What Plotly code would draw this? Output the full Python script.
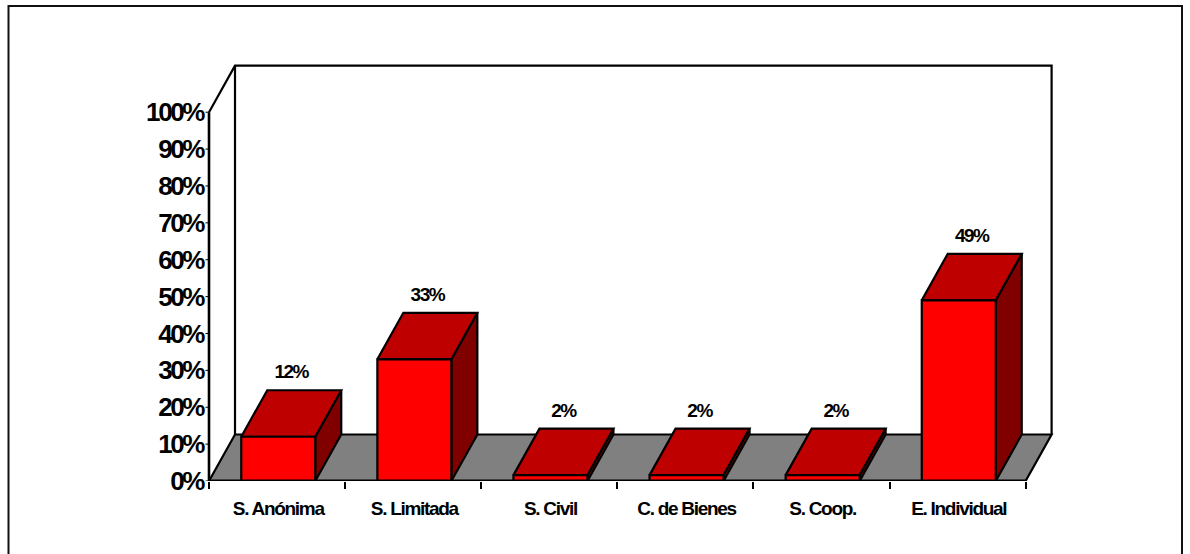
import plotly.graph_objects as go

categories = ["S. Anónima", "S. Limitada", "S. Civil", "C. de Bienes", "S. Coop.", "E. Individual"]
values = [12, 33, 1.6, 1.6, 1.6, 49]
value_labels = ["12%", "33%", "2%", "2%", "2%", "49%"]
y_ticks = list(range(0, 101, 10))

W, H = 1190, 554
X0, Y0 = 209, 481                    # page pixels of the axes origin
L, R, T, B = 200, 1060, 56, 481      # plot box in page pixels
PX_X = (1025.6 - 209) / 6            # pixels per category
PX_Y = (481.3 - 112.5) / 100         # pixels per percent
DX = 26.0 / PX_X                     # depth offset, category units
DY = 46.5 / PX_Y                     # depth offset, percent units
BAR_W = 74 / PX_X
SHIFT = 1.2 / PX_X                   # category centres sit slightly right of mid-slot
LABEL_X = 13 / PX_X
LABEL_Y = 7 / PX_Y

INK = "#000000"
fig = go.Figure()


def poly(xs, ys, fill, lw=2):
    fig.add_trace(go.Scatter(x=xs, y=ys, mode="lines", fill="toself", fillcolor=fill,
                             line=dict(color=INK, width=lw), hoverinfo="skip",
                             showlegend=False, cliponaxis=False))


def line(xs, ys, lw=2.2):
    fig.add_trace(go.Scatter(x=xs, y=ys, mode="lines", line=dict(color=INK, width=lw),
                             hoverinfo="skip", showlegend=False, cliponaxis=False))


# floor and walls
poly([0, 6, 6 + DX, DX, 0], [0, 0, DY, DY, 0], "#808080", 2.2)
line([0, 0, DX, 6 + DX, 6 + DX], [100, 100, 100 + DY, 100 + DY, DY])
line([DX, DX], [DY, 100 + DY])
line([0, 0], [0, 100], 2.6)

# bars
for i, v in enumerate(values):
    c = i + 0.5 + SHIFT
    x0, x1 = c - BAR_W / 2, c + BAR_W / 2
    poly([x1, x1 + DX, x1 + DX, x1, x1], [0, DY, v + DY, v, 0], "#800000", 2.2)
    poly([x0, x1, x1 + DX, x0 + DX, x0], [v, v, v + DY, v + DY, v], "#bf0000", 2.2)
    poly([x0, x1, x1, x0, x0], [0, 0, v, v, 0], "#ff0000", 2.2)

line([0, 6], [0, 0], 3)

# data labels
fig.add_trace(go.Scatter(
    x=[i + 0.5 + SHIFT + LABEL_X for i in range(len(values))],
    y=[v + DY + LABEL_Y for v in values],
    mode="text", text=value_labels, textposition="top center",
    textfont=dict(family="Liberation Sans", size=19, color=INK, weight="bold"),
    hoverinfo="skip", showlegend=False, cliponaxis=False))

fig.update_layout(
    width=W, height=H, autosize=False,
    margin=dict(l=L, r=W - R, t=T, b=H - B, pad=0),
    paper_bgcolor="white", plot_bgcolor="rgba(0,0,0,0)",
    xaxis=dict(
        range=[(L - X0) / PX_X, (R - X0) / PX_X], showgrid=False, zeroline=False, showline=False,
        tickmode="array", tickvals=[i + 0.5 + SHIFT for i in range(6)], ticktext=categories,
        ticks="", ticklabelstandoff=14,
        tickfont=dict(family="Liberation Sans", size=19, color=INK, weight="bold"),
        minor=dict(ticks="outside", tickmode="array", tickvals=list(range(7)),
                   ticklen=7, tickwidth=1.8, tickcolor=INK, showgrid=False),
    ),
    yaxis=dict(
        range=[(Y0 - B) / PX_Y, (Y0 - T) / PX_Y], showgrid=False, zeroline=False, showline=False,
        tickmode="array", tickvals=y_ticks, ticktext=[f"{t}%" for t in y_ticks],
        ticks="", ticklabelstandoff=-4,
        tickfont=dict(family="Liberation Sans", size=26, color=INK, weight="bold"),
    ),
    shapes=[dict(type="rect", xref="paper", yref="paper",
                 x0=(8.5 - L) / (R - L), x1=(1182 - L) / (R - L),
                 y0=(B - 565) / (B - T), y1=(B - 6) / (B - T),
                 line=dict(color="#111111", width=2), fillcolor="rgba(0,0,0,0)", layer="below")]
    + [dict(type="line", xref="x", yref="y", x0=0, x1=-3.5 / PX_X, y0=t, y1=t,
            line=dict(color=INK, width=1)) for t in y_ticks],
)

post = """
document.body.style.margin = '0';
var s = document.createElement('style');
s.textContent = '.ytick text{letter-spacing:-2.4px} .xtick text{letter-spacing:-1.3px} .textpoint text{letter-spacing:-1.5px}';
document.head.appendChild(s);
"""
fig.write_html("out.html", post_script=post, config=dict(displayModeBar=False))
